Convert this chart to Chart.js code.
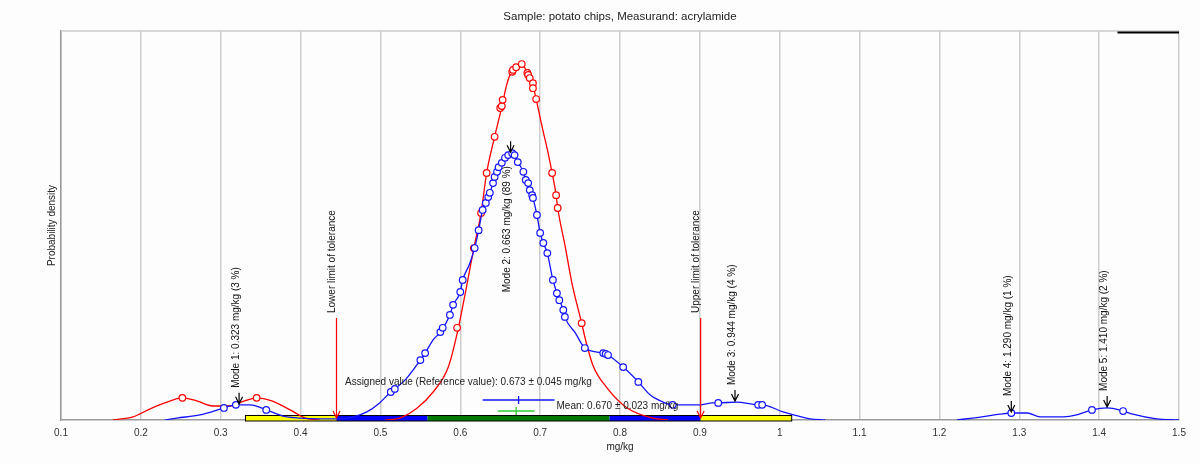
<!DOCTYPE html>
<html>
<head>
<meta charset="utf-8">
<script src="https://cdn.jsdelivr.net/npm/chart.js@4.4.1/dist/chart.umd.min.js"></script>
<style>
  html, body { margin: 0; padding: 0; background: #fdfdfe; }
</style>
</head>
<body>
<canvas id="grafica" width="1200" height="464"></canvas>
<script>
// curva roja (densidad de los resultados)
const curvaRojaX = [0.165, 0.190, 0.211, 0.230, 0.252, 0.270, 0.290, 0.312, 0.330, 0.345, 0.364, 0.387, 0.406, 0.424, null,
  0.506, 0.524, 0.546, 0.566, 0.585, 0.597, 0.607, 0.617, 0.626, 0.633, 0.643, 0.652, 0.658, 0.664, 0.670, 0.673, 0.677,
  0.684, 0.687, 0.691, 0.695, 0.702, 0.710, 0.715, 0.720, 0.722, 0.731, 0.740, 0.752, 0.757, 0.766, 0.784, 0.809, 0.841, 0.860];
const curvaRojaY = [0, 0.08, 0.28, 0.44, 0.57, 0.49, 0.36, 0.36, 0.49, 0.57, 0.49, 0.26, 0.05, 0, null,
  0, 0.05, 0.31, 0.72, 1.36, 2.31, 3.34, 4.42, 5.32, 6.35, 7.28, 8.05, 8.61, 8.95, 9.07, 9.15, 9.15,
  8.92, 8.79, 8.59, 8.25, 7.58, 6.86, 6.35, 5.78, 5.45, 4.50, 3.50, 2.49, 2.05, 1.41, 0.82, 0.31, 0.05, 0];
const puntosRojosX = [0.252, 0.345, 0.596, 0.617, 0.626, 0.633, 0.643, 0.650, 0.652, 0.653, 0.665, 0.666, 0.670, 0.677,
  0.684, 0.685, 0.687, 0.691, 0.691, 0.695, 0.715, 0.720, 0.722, 0.752];
const puntosRojosY = [0.57, 0.57, 2.37, 4.42, 5.32, 6.35, 7.28, 8.02, 8.07, 8.23, 8.95, 9.00, 9.07, 9.15,
  8.92, 8.87, 8.79, 8.66, 8.53, 8.25, 6.35, 5.78, 5.45, 2.49];

// curva azul (densidad con modos)
const curvaAzulX = [0.230, 0.245, 0.274, 0.304, 0.319, 0.337, 0.357, 0.378, 0.399, 0.424,
  0.449, 0.466, 0.483, 0.499, 0.513, 0.518, 0.531, 0.550, 0.556, 0.566,
  0.575, 0.587, 0.591, 0.600, 0.603, 0.611, 0.618, 0.623, 0.628, 0.632,
  0.635, 0.637, 0.641, 0.643, 0.646, 0.648, 0.652, 0.656, 0.660, 0.665,
  0.668, 0.672, 0.679, 0.682, 0.685, 0.687, 0.690, 0.691, 0.696, 0.700,
  0.704, 0.709, 0.716, 0.721, 0.724, 0.729, 0.731, 0.744, 0.756, 0.779,
  0.785, 0.804, 0.823, 0.838, 0.854, 0.866, 0.900, 0.916, 0.923, 0.946,
  0.973, 0.978, 1.004, 1.038, 1.057, null,
  1.222, 1.253, 1.276, 1.290, 1.310, 1.326, 1.355, 1.372, 1.391, 1.410, 1.430, 1.442, 1.472, 1.500];
const curvaAzulY = [0, 0.05, 0.13, 0.31, 0.39, 0.39, 0.26, 0.10, 0.05, 0.03,
  0.03, 0.08, 0.21, 0.44, 0.72, 0.80, 1.03, 1.54, 1.72, 2.06,
  2.26, 2.70, 2.96, 3.29, 3.60, 3.98, 4.42, 4.88, 5.40, 5.58,
  5.73, 5.84, 6.09, 6.25, 6.38, 6.50, 6.61, 6.74, 6.81, 6.86,
  6.81, 6.63, 6.38, 6.17, 6.09, 5.91, 5.78, 5.71, 5.27, 4.81,
  4.55, 4.29, 3.60, 3.26, 3.08, 2.83, 2.65, 2.24, 1.85, 1.72,
  1.67, 1.36, 0.98, 0.64, 0.46, 0.39, 0.39, 0.44, 0.44, 0.46,
  0.39, 0.39, 0.21, 0.03, 0, null,
  0, 0.08, 0.15, 0.18, 0.18, 0.08, 0.08, 0.13, 0.26, 0.31, 0.23, 0.15, 0.03, 0];
const puntosAzulesX = [0.304, 0.319, 0.357, 0.513, 0.518, 0.550, 0.556, 0.575, 0.578, 0.587, 0.591, 0.600, 0.603,
  0.618, 0.623, 0.628, 0.632, 0.635, 0.637, 0.641, 0.643, 0.646, 0.648, 0.652, 0.656, 0.660, 0.665, 0.668, 0.672,
  0.679, 0.682, 0.685, 0.687, 0.690, 0.691, 0.696, 0.700, 0.704, 0.709, 0.716, 0.721, 0.724, 0.729, 0.731,
  0.756, 0.779, 0.782, 0.785, 0.804, 0.823, 0.866, 0.923, 0.973, 0.978, 1.290, 1.391, 1.430];
const puntosAzulesY = [0.31, 0.39, 0.26, 0.72, 0.80, 1.54, 1.72, 2.26, 2.37, 2.70, 2.96, 3.29, 3.60,
  4.42, 4.88, 5.40, 5.58, 5.73, 5.84, 6.09, 6.25, 6.38, 6.50, 6.61, 6.74, 6.81, 6.86, 6.81, 6.63,
  6.38, 6.17, 6.09, 5.91, 5.78, 5.71, 5.27, 4.81, 4.55, 4.29, 3.60, 3.26, 3.08, 2.83, 2.65,
  1.85, 1.72, 1.70, 1.67, 1.36, 0.98, 0.39, 0.44, 0.39, 0.39, 0.18, 0.26, 0.23];

// modos
const modosX = [0.323, 0.663, 0.944, 1.290, 1.410];
const modosDensidad = [0.39, 6.86, 0.46, 0.18, 0.31];
const modosPorcentaje = [3, 89, 4, 1, 2];

// valor asignado, media y límites
const valorAsignado = 0.673, incertAsignado = 0.045;
const media = 0.670, incertMedia = 0.023;
const limiteInferior = 0.445, limiteSuperior = 0.901;

// franjas de la barra inferior
const bordesFranjas = [0.331, 0.445, 0.559, 0.787, 0.901, 1.015];
const coloresFranjas = ['#ffff00', '#0000ff', '#007a00', '#0000ff', '#ffff00'];

const ticksX = [0.1, 0.2, 0.3, 0.4, 0.5, 0.6, 0.7, 0.8, 0.9, 1, 1.1, 1.2, 1.3, 1.4, 1.5];

const ROJO = '#ff0000';
const AZUL = '#1414ff';
const FUENTE = '"Liberation Sans", Arial, sans-serif';

Chart.defaults.font.family = FUENTE;

function unir(xs, ys) {
    return xs.map((x, i) => ({ x: x, y: ys[i] }));
}

function flecha(ctx, px, yIni, yPunta, color) {
    ctx.strokeStyle = color;
    ctx.lineWidth = 1.2;
    ctx.beginPath();
    ctx.moveTo(px, yIni);
    ctx.lineTo(px, yPunta);
    ctx.moveTo(px - 3.5, yPunta - 7);
    ctx.lineTo(px, yPunta);
    ctx.lineTo(px + 3.5, yPunta - 7);
    ctx.stroke();
}

function textoVertical(ctx, texto, px, yInicio) {
    ctx.save();
    ctx.translate(px, yInicio);
    ctx.rotate(-Math.PI / 2);
    ctx.textAlign = 'left';
    ctx.textBaseline = 'middle';
    ctx.fillText(texto, 0, 0);
    ctx.restore();
}

const anotaciones = {
    id: 'anotaciones',
    beforeDatasetsDraw(chart) {
        const { ctx, chartArea, scales: { x, y } } = chart;
        ctx.save();
        // borde superior del área
        ctx.strokeStyle = '#cacaca';
        ctx.lineWidth = 1.5;
        ctx.beginPath();
        ctx.moveTo(chartArea.left, chartArea.top);
        ctx.lineTo(chartArea.right, chartArea.top);
        ctx.stroke();

        // barra de franjas
        const y0 = y.getPixelForValue(0);
        for (let i = 0; i < coloresFranjas.length; i++) {
            const x1 = x.getPixelForValue(bordesFranjas[i]);
            const x2 = x.getPixelForValue(bordesFranjas[i + 1]);
            ctx.fillStyle = coloresFranjas[i];
            ctx.fillRect(x1, y0 - 4, x2 - x1, 5);
        }
        ctx.strokeStyle = '#000';
        ctx.lineWidth = 1;
        const xa = x.getPixelForValue(bordesFranjas[0]);
        const xb = x.getPixelForValue(bordesFranjas[bordesFranjas.length - 1]);
        ctx.strokeRect(xa, y0 - 4.5, xb - xa, 5.5);

        // trazo negro arriba a la derecha
        ctx.lineWidth = 2;
        ctx.beginPath();
        ctx.moveTo(x.getPixelForValue(1.423), chartArea.top + 1.5);
        ctx.lineTo(chartArea.right, chartArea.top + 1.5);
        ctx.stroke();
        ctx.restore();
    },
    afterDatasetsDraw(chart) {
        const { ctx, chartArea, scales: { x, y } } = chart;
        const y0 = y.getPixelForValue(0);
        ctx.save();
        ctx.font = '10px ' + FUENTE;
        ctx.fillStyle = '#111';

        // título
        ctx.font = '11.5px ' + FUENTE;
        ctx.textAlign = 'center';
        ctx.textBaseline = 'middle';
        ctx.fillStyle = '#222';
        ctx.fillText('Sample: potato chips, Measurand: acrylamide', (chartArea.left + chartArea.right) / 2, 17);
        ctx.font = '10px ' + FUENTE;
        ctx.fillStyle = '#111';

        // límites de tolerancia
        [[limiteInferior, 'Lower limit of tolerance'], [limiteSuperior, 'Upper limit of tolerance']].forEach(([v, t]) => {
            const px = x.getPixelForValue(v);
            flecha(ctx, px, y0 - 102, y0 - 2, ROJO);
            textoVertical(ctx, t, px - 4, y0 - 107);
        });

        // modos
        modosX.forEach((m, i) => {
            const px = x.getPixelForValue(m);
            const punta = y.getPixelForValue(modosDensidad[i]) - 1;
            flecha(ctx, px, punta - 11, punta, '#000');
            const texto = `Mode ${i + 1}: ${m.toFixed(3)} mg/kg (${modosPorcentaje[i]} %)`;
            const ancho = ctx.measureText(texto).width;
            let inicio = punta - 16;
            if (inicio - ancho < chartArea.top + 4) inicio = punta + 14 + ancho;
            textoVertical(ctx, texto, px - 3, inicio);
        });

        // valor asignado
        const yAsig = y0 - 20;
        const xa1 = x.getPixelForValue(valorAsignado - incertAsignado);
        const xa2 = x.getPixelForValue(valorAsignado + incertAsignado);
        const xac = x.getPixelForValue(valorAsignado);
        ctx.strokeStyle = AZUL;
        ctx.lineWidth = 1.3;
        ctx.beginPath();
        ctx.moveTo(xa1, yAsig); ctx.lineTo(xa2, yAsig);
        ctx.moveTo(xac, yAsig - 4); ctx.lineTo(xac, yAsig + 4);
        ctx.stroke();

        // media
        const yMed = y0 - 9;
        const xm1 = x.getPixelForValue(media - incertMedia);
        const xm2 = x.getPixelForValue(media + incertMedia);
        const xmc = x.getPixelForValue(media);
        ctx.strokeStyle = '#33cc33';
        ctx.beginPath();
        ctx.moveTo(xm1, yMed); ctx.lineTo(xm2, yMed);
        ctx.moveTo(xmc, yMed - 4); ctx.lineTo(xmc, yMed + 4);
        ctx.stroke();

        ctx.textAlign = 'left';
        ctx.textBaseline = 'middle';
        ctx.fillStyle = '#222';
        ctx.fillText(`Assigned value (Reference value): ${valorAsignado.toFixed(3)} \u00b1 ${incertAsignado.toFixed(3)} mg/kg`,
            x.getPixelForValue(0.4556), y0 - 38);
        ctx.fillText(`Mean: ${media.toFixed(3)} \u00b1 ${incertMedia.toFixed(3)} mg/kg`, xa2 + 2, y0 - 14);
        ctx.restore();
    }
};

const ctx = document.getElementById('grafica');

const estiloPuntos = (color) => ({
    showLine: false,
    pointRadius: 3.3,
    pointBorderWidth: 1.2,
    pointBorderColor: color,
    pointBackgroundColor: '#ffffff',
    pointHoverRadius: 3.3
});

new Chart(ctx, {
    type: 'scatter',
    data: {
        datasets: [
            Object.assign({ label: 'puntos azules', data: unir(puntosAzulesX, puntosAzulesY) }, estiloPuntos(AZUL)),
            {
                label: 'curva azul',
                data: unir(curvaAzulX, curvaAzulY),
                showLine: true,
                borderColor: AZUL,
                borderWidth: 1.3,
                pointRadius: 0,
                cubicInterpolationMode: 'monotone',
                spanGaps: false
            },
            Object.assign({ label: 'puntos rojos', data: unir(puntosRojosX, puntosRojosY) }, estiloPuntos(ROJO)),
            {
                label: 'curva roja',
                data: unir(curvaRojaX, curvaRojaY),
                showLine: true,
                borderColor: ROJO,
                borderWidth: 1.3,
                pointRadius: 0,
                cubicInterpolationMode: 'monotone',
                spanGaps: false
            }
        ]
    },
    options: {
        responsive: false,
        animation: false,
        layout: { padding: { top: 31, right: 21, left: 40, bottom: 0 } },
        plugins: {
            legend: { display: false },
            tooltip: { enabled: false },
            title: { display: false }
        },
        scales: {
            x: {
                type: 'linear',
                min: 0.1,
                max: 1.5,
                afterBuildTicks: (s) => { s.ticks = ticksX.map(v => ({ value: v })); },
                afterFit: (s) => { s.height = 44; },
                ticks: {
                    color: '#333',
                    font: { size: 10 },
                    padding: 7,
                    maxRotation: 0,
                    autoSkip: false,
                    callback: (v) => String(+v.toFixed(1))
                },
                grid: { color: '#cdcdcd', lineWidth: 1.5, drawTicks: false },
                border: { color: '#9a9a9a', width: 1.5 },
                title: {
                    display: true,
                    text: 'mg/kg',
                    color: '#222',
                    font: { size: 10 },
                    padding: { top: 0, bottom: 11 }
                }
            },
            y: {
                min: 0,
                max: 10,
                afterFit: (s) => { s.width = 21; },
                ticks: { display: false },
                grid: { display: false },
                border: { color: '#9a9a9a', width: 1.5 },
                title: {
                    display: true,
                    text: 'Probability density',
                    color: '#222',
                    font: { size: 10 },
                    padding: { top: 6, bottom: 0 }
                }
            }
        }
    },
    plugins: [anotaciones]
});
</script>
</body>
</html>
